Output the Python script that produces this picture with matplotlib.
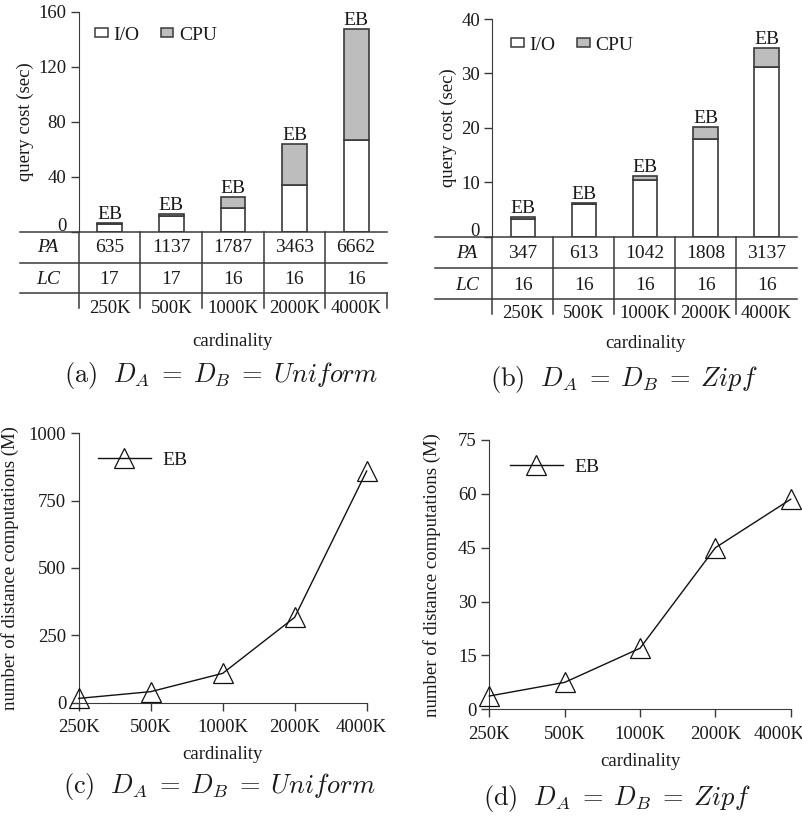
import matplotlib
matplotlib.use("Agg")
import matplotlib.pyplot as plt
import matplotlib.transforms as mtrans
from matplotlib.patches import Patch
from matplotlib.lines import Line2D

plt.rcParams['font.family'] = ['Liberation Serif', 'DejaVu Serif']
plt.rcParams['mathtext.fontset'] = 'cm'

# ---------------- data ----------------
categories = ["250K", "500K", "1000K", "2000K", "4000K"]

# (a) Uniform
io_uniform = [5.6, 11.0, 17.3, 34.0, 66.5]
cpu_uniform = [0.8, 1.6, 8.0, 29.7, 81.0]
pa_uniform = [635, 1137, 1787, 3463, 6662]
lc_uniform = [17, 17, 16, 16, 16]

# (b) Zipf
io_zipf = [3.3, 6.0, 10.3, 17.9, 31.2]
cpu_zipf = [0.3, 0.2, 0.9, 2.3, 3.4]
pa_zipf = [347, 613, 1042, 1808, 3137]
lc_zipf = [16, 16, 16, 16, 16]

# (c), (d) number of distance computations (M)
dist_uniform = [16, 41, 109, 317, 860]
dist_zipf = [3.7, 7.5, 17.0, 45.0, 58.5]

uniform_yticks = [0, 40, 80, 120, 160]
zipf_yticks = [0, 10, 20, 30, 40]
dist_uniform_yticks = [0, 250, 500, 750, 1000]
dist_zipf_yticks = [0, 15, 30, 45, 60, 75]

# ---------------- layout ----------------
W, H = 803, 817
fig = plt.figure(figsize=(W / 100, H / 100), dpi=100)
TXT = "#1a1a1a"
EDGE = "#3a3a3a"
GRAY = "#bdbdbd"
FS = 13.5
TFS = 14
CAPFS = 19


def add_ax(l, r, t, b):
    return fig.add_axes([l / W, 1 - b / H, (r - l) / W, (b - t) / H])


def fx(x):
    return x / W


def fy(y):
    return 1 - y / H


def shift(label, dx, dy):
    label.set_transform(label.get_transform() + mtrans.ScaledTranslation(
        dx / 100, dy / 100, fig.dpi_scale_trans))


def bar_panel(l, r, t, b, io, cpu, yticks, pa, lc, tab_left, row_lines,
              row_text, rlabel_x, right_tick, card_xy, cap_xy, cap, leg_xy,
              leg_sp):
    ax = add_ax(l, r, t, b)
    n = len(categories)
    x = list(range(n))
    ax.bar(x, io, width=0.4, color="white", edgecolor=EDGE, linewidth=1.2,
           zorder=3)
    ax.bar(x, cpu, bottom=io, width=0.4, color=GRAY, edgecolor=EDGE,
           linewidth=1.2, zorder=3)
    for xi, a, c in zip(x, io, cpu):
        ax.annotate("EB", (xi, a + c), xytext=(0, 0), textcoords="offset points",
                    ha="center", va="bottom", fontsize=TFS, color=TXT)
    ax.set_xlim(-0.5, n - 0.5)
    ax.set_ylim(yticks[0], yticks[-1])
    ax.set_yticks(yticks)
    ax.set_xticks([])
    for s in ["top", "right", "bottom"]:
        ax.spines[s].set_visible(False)
    ax.spines["left"].set_color(EDGE)
    ax.tick_params(axis="y", direction="out", length=6, width=1, color=EDGE,
                   labelsize=FS, labelcolor=TXT, pad=3)
    shift(ax.get_yticklabels()[0], 0, 7)
    ax.set_ylabel("query cost (sec)", fontsize=FS, color=TXT, labelpad=3)
    ax.patch.set_alpha(0)

    # table axes
    colw = (r - l) / n
    tb = b + 88
    tx = add_ax(tab_left, r, b, tb)
    tx.set_xlim(-0.5 - (l - tab_left) / colw, n - 0.5)
    tx.set_ylim(tb - b, 0)
    tx.axis("off")
    for yl in row_lines:
        tx.plot([-0.5 - (l - tab_left) / colw, n - 0.5], [yl, yl],
                color=EDGE, lw=1.1, clip_on=False)
    tx.plot([-0.5, -0.5], [0, row_lines[2] + 15], color=EDGE, lw=1.1,
            clip_on=False)
    for k in range(n - 1):
        xb = k + 0.5
        tx.plot([xb, xb], [0, row_lines[2] + 15], color=EDGE, lw=1.1,
                clip_on=False)
    if right_tick:
        tx.plot([n - 0.5, n - 0.5], [row_lines[2], row_lines[2] + 15],
                color=EDGE, lw=1.1, clip_on=False)
    lab_x = -0.5 - (l - rlabel_x) / colw
    tx.text(lab_x, row_text[0], "PA", style="italic", ha="center",
            va="center", fontsize=TFS, color=TXT)
    tx.text(lab_x, row_text[1], "LC", style="italic", ha="center",
            va="center", fontsize=TFS, color=TXT)
    for k in range(n):
        tx.text(k, row_text[0], str(pa[k]), ha="center", va="center",
                fontsize=TFS, color=TXT)
        tx.text(k, row_text[1], str(lc[k]), ha="center", va="center",
                fontsize=TFS, color=TXT)
        tx.text(k, row_text[2], categories[k], ha="center", va="center",
                fontsize=FS, color=TXT)
    fig.text(fx(card_xy[0]), fy(card_xy[1]), "cardinality", ha="center",
             va="center", fontsize=FS, color=TXT)
    fig.text(fx(cap_xy[0]), fy(cap_xy[1]), cap, ha="center", va="center",
             fontsize=CAPFS, color=TXT)
    handles = [Patch(facecolor="white", edgecolor=EDGE, lw=1.1, label="I/O"),
               Patch(facecolor=GRAY, edgecolor=EDGE, lw=1.1, label="CPU")]
    fig.legend(handles=handles, loc="center left",
               bbox_to_anchor=(fx(leg_xy[0]), fy(leg_xy[1])), ncol=2,
               frameon=False, fontsize=TFS, handlelength=0.65,
               handleheight=0.3, handletextpad=0.3, columnspacing=leg_sp,
               borderpad=0, borderaxespad=0, labelcolor=TXT)
    return ax


def line_panel(l, r, t, b, vals, yticks, cap_xy, cap, leg_xy, last_shift,
               ylpad):
    ax = add_ax(l, r, t, b)
    x = list(range(len(categories)))
    ax.plot(x, vals, color="#111111", lw=1.0, marker="^", markersize=14,
            markerfacecolor="none", markeredgecolor="#111111",
            markeredgewidth=0.9, clip_on=False, zorder=3)
    ax.set_xlim(0, len(categories) - 1)
    ax.set_ylim(yticks[0], yticks[-1])
    ax.set_yticks(yticks)
    ax.set_xticks(x)
    ax.set_xticklabels(categories)
    for s in ["top", "right"]:
        ax.spines[s].set_visible(False)
    for s in ["left", "bottom"]:
        ax.spines[s].set_color(EDGE)
    ax.tick_params(direction="out", length=6, width=1, color=EDGE,
                   labelsize=FS, labelcolor=TXT)
    ax.tick_params(axis="x", pad=6)
    ax.tick_params(axis="y", pad=3)
    shift(ax.get_xticklabels()[-1], -last_shift, 0)
    ax.set_xlabel("cardinality", fontsize=FS, color=TXT, labelpad=7)
    ax.set_ylabel("number of distance computations (M)", fontsize=FS,
                  color=TXT, labelpad=ylpad)
    fig.text(fx(cap_xy[0]), fy(cap_xy[1]), cap, ha="center", va="center",
             fontsize=CAPFS, color=TXT)
    h = Line2D([], [], color="#111111", lw=1.0, marker="^", markersize=14,
               markerfacecolor="none", markeredgecolor="#111111",
               markeredgewidth=0.9, label="EB")
    fig.legend(handles=[h], loc="center left",
               bbox_to_anchor=(fx(leg_xy[0]), fy(leg_xy[1])), frameon=False,
               fontsize=TFS, handlelength=2.7, handletextpad=0.6, borderpad=0,
               borderaxespad=0, labelcolor=TXT)
    return ax


SP = r"\;=\;"
bar_panel(78.7, 387, 12, 231.5, io_uniform, cpu_uniform, uniform_yticks,
          pa_uniform, lc_uniform, tab_left=20, row_lines=[0, 31.2, 62],
          row_text=[16.5, 48, 77.5], rlabel_x=48, right_tick=True,
          card_xy=(232, 341), cap_xy=(221, 376),
          cap=r"$\mathrm{(a)}\ \ D_A" + SP + "D_B" + SP + "Uniform$",
          leg_xy=(95, 35), leg_sp=1.1)

bar_panel(492.5, 797, 19, 236.5, io_zipf, cpu_zipf, zipf_yticks,
          pa_zipf, lc_zipf, tab_left=435, row_lines=[0, 31.8, 62.8],
          row_text=[16.5, 48.5, 77.5], rlabel_x=467, right_tick=False,
          card_xy=(645, 344), cap_xy=(624, 380),
          cap=r"$\mathrm{(b)}\ \ D_A" + SP + "D_B" + SP + "Zipf$",
          leg_xy=(511, 45), leg_sp=1.1)

line_panel(78.7, 366.7, 433.3, 702.7, dist_uniform, dist_uniform_yticks,
           cap_xy=(219, 787),
           cap=r"$\mathrm{(c)}\ \ D_A" + SP + "D_B" + SP + "Uniform$",
           leg_xy=(98, 460), last_shift=6, ylpad=7)

line_panel(489.3, 790.7, 440, 709.3, dist_zipf, dist_zipf_yticks,
           cap_xy=(617, 798),
           cap=r"$\mathrm{(d)}\ \ D_A" + SP + "D_B" + SP + "Zipf$",
           leg_xy=(510, 467), last_shift=12, ylpad=12)

fig.savefig("out.png", dpi=100)
